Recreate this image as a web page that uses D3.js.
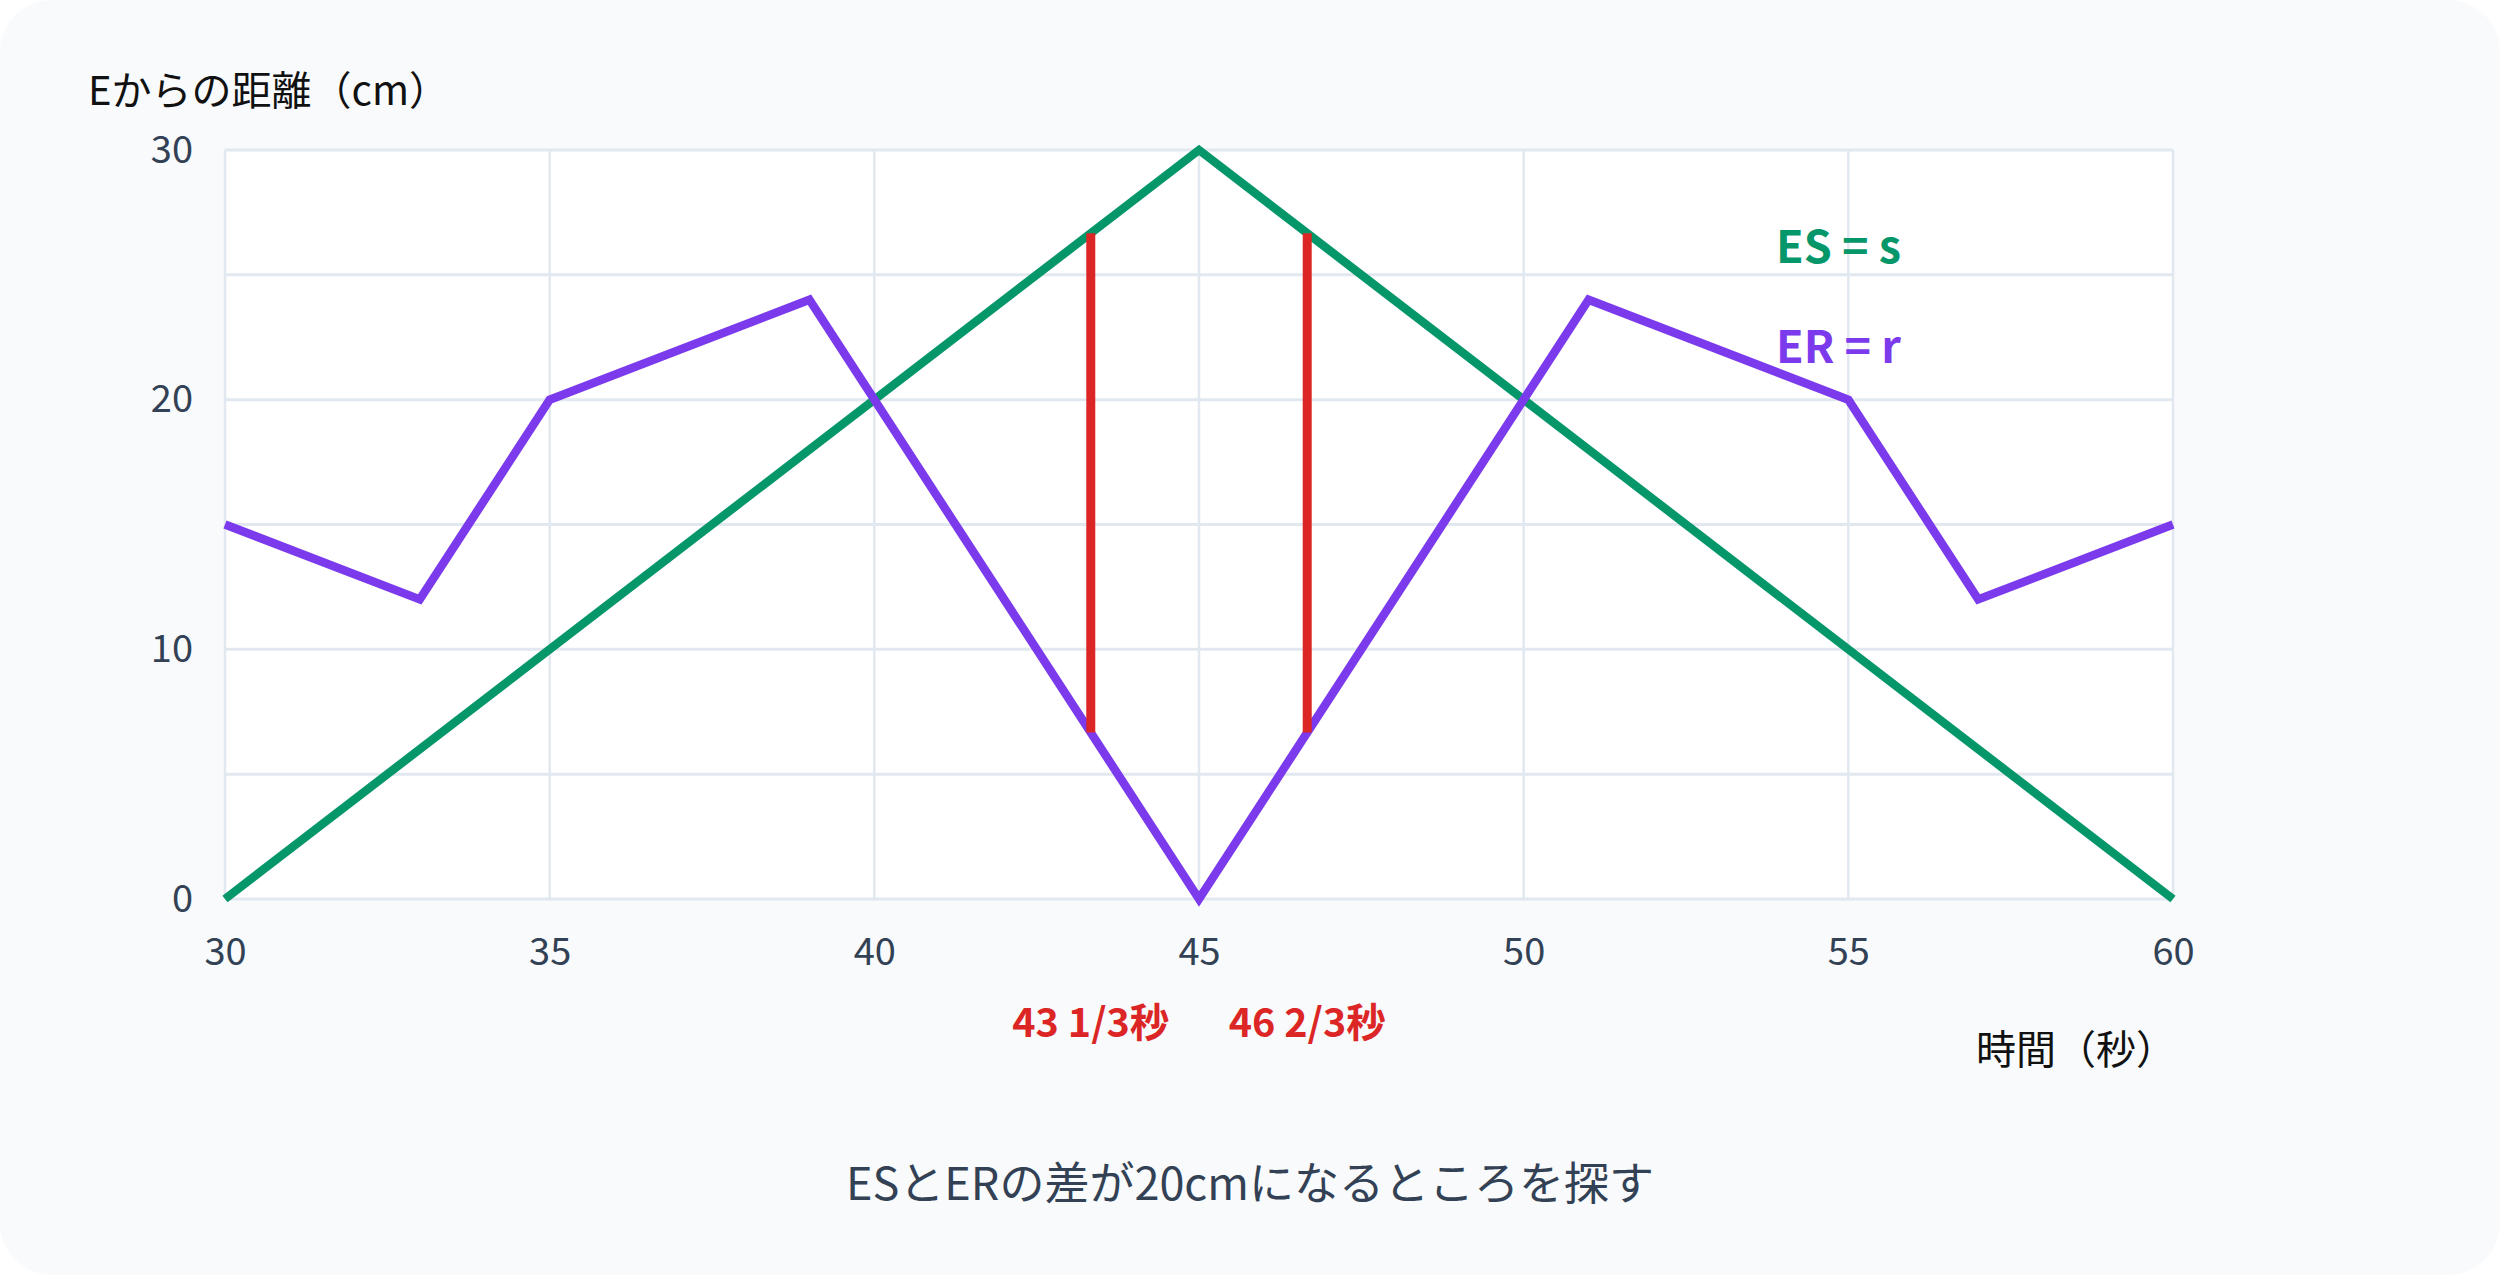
<!DOCTYPE html>
<html>
<head>
<meta charset="utf-8">
<script src="https://cdn.jsdelivr.net/npm/d3@7"></script>
<style>
  html, body { margin: 0; padding: 0; background: #ffffff; }
  svg { display: block; }
  text { font-family: "Noto Sans CJK JP", "Noto Sans", sans-serif; }
</style>
</head>
<body>
<div id="chart"></div>
<script>
// ---- data ----
const timeTicks = [30, 35, 40, 45, 50, 55, 60];
const distTicks = [0, 10, 20, 30];
const gridTicksY = [0, 5, 10, 15, 20, 25, 30];

const esTimes  = [30, 45, 60];
const esValues = [0, 30, 0];

const erTimes  = [30, 33, 35, 39, 45, 51, 55, 57, 60];
const erValues = [15, 12, 20, 24, 0, 24, 20, 12, 15];

const diffTimes  = [43 + 1/3, 46 + 2/3];
const diffLow    = [6 + 2/3, 6 + 2/3];
const diffHigh   = [26 + 2/3, 26 + 2/3];
const diffLabels = ["43 1/3秒", "46 2/3秒"];

const legendLabels = ["ES = s", "ER = r"];
const yTitle = "Eからの距離（cm）";
const xTitle = "時間（秒）";
const caption = "ESとERの差が20cmになるところを探す";

// ---- layout ----
const W = 2500, H = 1275;
const plot = { left: 225, right: 2173, top: 150, bottom: 899 };
const colors = { es: "#059669", er: "#7c3aed", diff: "#dc2626", grid: "#e2e8f0", tick: "#334155" };

const svg = d3.select("#chart").append("svg")
  .attr("width", W).attr("height", H).attr("viewBox", `0 0 ${W} ${H}`);

svg.append("rect").attr("x", 0).attr("y", 0).attr("width", W).attr("height", H)
  .attr("rx", 52).attr("ry", 52).attr("fill", "#f8fafc");

const x = d3.scaleLinear().domain([30, 60]).range([plot.left, plot.right]);
const y = d3.scaleLinear().domain([0, 30]).range([plot.bottom, plot.top]);

svg.append("rect")
  .attr("x", x(30)).attr("y", y(30))
  .attr("width", x(60) - x(30)).attr("height", y(0) - y(30))
  .attr("fill", "#ffffff");

// grid
const grid = svg.append("g");
grid.selectAll("line.v").data(timeTicks).join("line")
  .attr("x1", d => x(d)).attr("x2", d => x(d))
  .attr("y1", y(0)).attr("y2", y(30))
  .attr("stroke", colors.grid).attr("stroke-width", 2.5);
grid.selectAll("line.h").data(gridTicksY).join("line")
  .attr("y1", d => y(d)).attr("y2", d => y(d))
  .attr("x1", x(30)).attr("x2", x(60))
  .attr("stroke", colors.grid).attr("stroke-width", 3);

// axes
const xAxis = svg.append("g")
  .attr("transform", `translate(0,${plot.bottom})`)
  .call(d3.axisBottom(x).tickValues(timeTicks).tickSize(0).tickPadding(0));
xAxis.select(".domain").remove();
xAxis.selectAll("text")
  .attr("y", 66).attr("dy", null)
  .attr("font-size", 38).attr("fill", colors.tick)
  .style("font-family", '"Noto Sans CJK JP", sans-serif');

const yAxis = svg.append("g")
  .attr("transform", `translate(${plot.left},0)`)
  .call(d3.axisLeft(y).tickValues(distTicks).tickSize(0).tickPadding(32));
yAxis.select(".domain").remove();
yAxis.selectAll("text")
  .attr("font-size", 38).attr("fill", colors.tick)
  .style("font-family", '"Noto Sans CJK JP", sans-serif');

// lines
const line = d3.line().x(d => x(d[0])).y(d => y(d[1]));
svg.append("path")
  .datum(esTimes.map((t, i) => [t, esValues[i]]))
  .attr("d", line).attr("fill", "none")
  .attr("stroke", colors.es).attr("stroke-width", 8.5)
  .attr("stroke-linejoin", "miter");
svg.append("path")
  .datum(erTimes.map((t, i) => [t, erValues[i]]))
  .attr("d", line).attr("fill", "none")
  .attr("stroke", colors.er).attr("stroke-width", 8.5)
  .attr("stroke-linejoin", "miter");

// difference markers
svg.selectAll("line.diff").data(diffTimes).join("line")
  .attr("x1", d => x(d)).attr("x2", d => x(d))
  .attr("y1", (d, i) => y(diffLow[i])).attr("y2", (d, i) => y(diffHigh[i]))
  .attr("stroke", colors.diff).attr("stroke-width", 9);

svg.selectAll("text.diff").data(diffTimes).join("text")
  .attr("x", d => x(d)).attr("y", 1037)
  .attr("text-anchor", "middle")
  .attr("font-size", 39.5).attr("font-weight", 700)
  .attr("fill", colors.diff)
  .text((d, i) => diffLabels[i]);

// legend labels
const legendColors = [colors.es, colors.er];
svg.selectAll("text.legend").data(legendLabels).join("text")
  .attr("x", 1776).attr("y", (d, i) => 263 + i * 100)
  .attr("font-size", 45).attr("font-weight", 700)
  .attr("fill", (d, i) => legendColors[i])
  .text(d => d);

// titles
svg.append("text").attr("x", 88).attr("y", 105)
  .attr("font-size", 40).attr("fill", "#111111").text(yTitle);
svg.append("text").attr("x", 2176).attr("y", 1064)
  .attr("text-anchor", "end")
  .attr("font-size", 40).attr("fill", "#111111").text(xTitle);
svg.append("text").attr("x", 1250).attr("y", 1200)
  .attr("text-anchor", "middle")
  .attr("font-size", 45).attr("fill", colors.tick).text(caption);
</script>
</body>
</html>
